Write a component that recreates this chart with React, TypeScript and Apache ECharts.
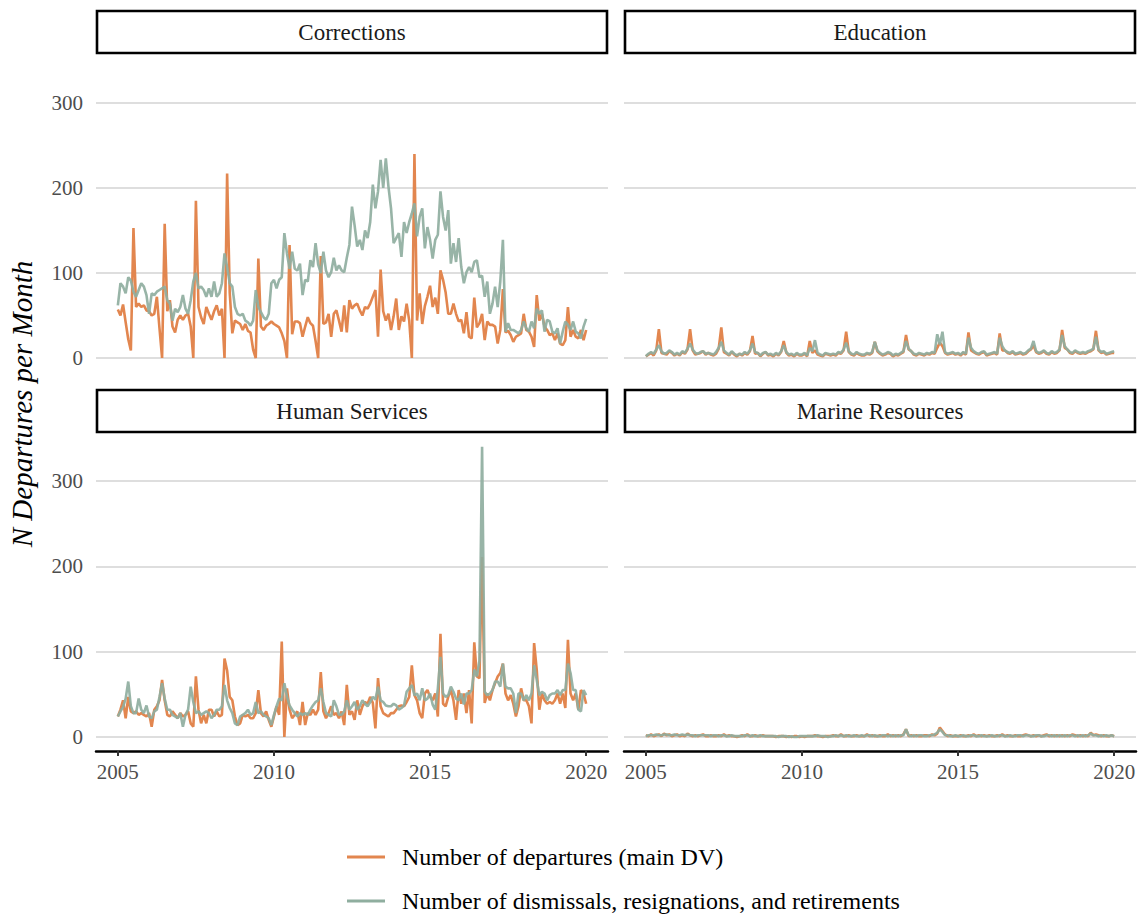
import { useEffect, useRef } from "react";
import * as echarts from "echarts";

// Monthly observations, January 2005 through January 2020 (181 months).
const FIRST_YEAR = 2005;
const YEAR_TICKS = [2005, 2010, 2015, 2020];
const Y_TICKS = [0, 100, 200, 300];
const PANEL_NAMES = ["Corrections", "Education", "Human Services", "Marine Resources"];
const SERIES_NAMES = [
  "Number of departures (main DV)",
  "Number of dismissals, resignations, and retirements",
];

const correctionsDepartures = [
  57, 50, 63, 42, 22, 9, 153, 60, 64, 60, 62, 56,
  55, 50, 52, 72, 35, 0, 158, 55, 68, 37, 30, 45,
  50, 45, 50, 52, 37, 0, 185, 60, 48, 40, 60, 52,
  45, 55, 62, 50, 58, 0, 217, 77, 29, 44, 42, 40,
  33, 40, 32, 30, 10, 0, 117, 37, 33, 38, 40, 43,
  40, 38, 36, 29, 20, 0, 133, 28, 43, 43, 41, 25,
  37, 48, 41, 38, 20, 0, 120, 40, 42, 52, 25, 52,
  56, 44, 31, 62, 30, 68, 58, 62, 64, 56, 50, 60,
  58, 64, 72, 80, 25, 104, 55, 44, 52, 33, 49, 70,
  33, 49, 43, 64, 44, 0, 240, 44, 76, 40, 61, 72,
  85, 60, 71, 52, 103, 92, 77, 52, 52, 64, 52, 43,
  45, 29, 54, 25, 23, 71, 36, 41, 52, 21, 43, 39,
  39, 37, 17, 33, 81, 30, 32, 27, 19, 25, 27, 29,
  52, 33, 31, 25, 13, 74, 44, 52, 37, 33, 27, 29,
  21, 29, 17, 15, 21, 60, 25, 33, 25, 23, 33, 21,
  33,
];

const correctionsSeparations = [
  62, 88, 84, 76, 95, 91, 78, 72, 80, 88, 84, 74,
  52, 76, 74, 78, 80, 82, 84, 68, 64, 44, 58, 54,
  60, 74, 58, 52, 68, 90, 100, 82, 84, 80, 72, 82,
  72, 90, 72, 76, 88, 123, 107, 88, 84, 60, 52, 50,
  52, 44, 42, 38, 44, 80, 60, 54, 48, 45, 52, 88,
  92, 82, 92, 95, 147, 123, 105, 125, 105, 103, 111, 74,
  92, 90, 115, 107, 135, 110, 100, 125, 103, 95, 101, 118,
  103, 109, 103, 101, 118, 133, 178, 156, 131, 139, 127, 150,
  141, 160, 204, 176, 196, 233, 200, 235, 202, 176, 135, 141,
  147, 119, 160, 147, 160, 170, 182, 143, 166, 176, 129, 154,
  139, 117, 139, 145, 196, 166, 150, 174, 111, 135, 113, 141,
  107, 88, 101, 107, 101, 113, 115, 95, 97, 72, 90, 52,
  64, 84, 60, 90, 139, 31, 41, 33, 33, 31, 29, 33,
  43, 35, 31, 43, 35, 58, 52, 56, 31, 45, 43, 31,
  29, 35, 17, 31, 43, 39, 33, 43, 31, 29, 23, 37,
  46,
];

const educationDepartures = [
  2, 4, 6, 3, 9, 34, 6, 5, 4, 8, 6, 3,
  5, 3, 7, 5, 10, 34, 9, 4, 5, 6, 8, 4,
  6, 4, 3, 5, 11, 36, 7, 5, 3, 7, 4, 2,
  5, 3, 6, 4, 8, 26, 5, 6, 2, 5, 7, 3,
  4, 2, 5, 3, 7, 20, 6, 3, 4, 2, 5, 3,
  3, 5, 2, 20, 6, 9, 4, 3, 2, 5, 4, 3,
  4, 3, 6, 5, 9, 31, 7, 4, 3, 6, 4, 3,
  3, 5, 4, 6, 19, 8, 5, 3, 4, 6, 5, 2,
  4, 3, 5, 7, 27, 10, 8, 4, 3, 5, 4, 3,
  5, 4, 6, 5, 12, 18, 14, 6, 4, 5, 6, 4,
  5, 3, 6, 4, 30, 9, 7, 5, 4, 6, 7, 3,
  4, 5, 6, 4, 29, 9, 9, 6, 5, 7, 4, 5,
  6, 4, 5, 8, 10, 15, 7, 5, 6, 8, 5, 4,
  7, 5, 6, 9, 33, 12, 10, 6, 5, 8, 6, 5,
  6, 5, 7, 8, 10, 32, 9, 6, 7, 4, 5, 6,
  6,
];

const educationSeparations = [
  2, 5, 7, 5, 10, 15, 8, 5, 6, 9, 7, 4,
  6, 4, 8, 6, 11, 17, 10, 6, 5, 7, 8, 5,
  6, 5, 4, 7, 12, 19, 9, 6, 4, 8, 5, 3,
  5, 4, 7, 5, 9, 17, 7, 6, 3, 6, 7, 4,
  5, 3, 6, 4, 8, 15, 7, 4, 5, 3, 6, 4,
  4, 6, 3, 12, 8, 21, 6, 4, 3, 6, 5, 4,
  5, 4, 7, 6, 10, 18, 8, 5, 4, 7, 5, 4,
  4, 6, 5, 7, 19, 9, 6, 4, 5, 7, 6, 3,
  5, 4, 6, 8, 20, 11, 8, 5, 4, 6, 5, 4,
  6, 5, 7, 6, 28, 16, 31, 7, 5, 6, 7, 5,
  6, 4, 7, 5, 24, 12, 8, 6, 5, 7, 8, 4,
  5, 6, 7, 5, 24, 14, 9, 7, 6, 8, 5, 6,
  7, 5, 6, 9, 11, 20, 8, 6, 7, 9, 6, 5,
  8, 6, 7, 10, 27, 14, 10, 7, 6, 9, 7, 6,
  7, 6, 8, 9, 11, 25, 10, 7, 8, 5, 6, 7,
  8,
];

const humanServicesDepartures = [
  24, 32, 43, 22, 47, 30, 28, 30, 26, 28, 26, 24,
  28, 12, 32, 36, 43, 67, 43, 26, 24, 30, 26, 22,
  28, 24, 26, 30, 16, 12, 71, 32, 16, 26, 16, 32,
  32, 24, 30, 24, 26, 92, 78, 47, 43, 24, 14, 16,
  26, 24, 26, 22, 22, 28, 55, 28, 24, 30, 20, 12,
  24, 36, 26, 112, 0, 57, 32, 22, 26, 30, 14, 41,
  14, 28, 26, 32, 26, 32, 76, 30, 22, 28, 36, 26,
  28, 22, 30, 14, 61, 26, 30, 20, 43, 26, 36, 41,
  39, 47, 40, 10, 69, 36, 28, 26, 24, 28, 28, 32,
  36, 37, 36, 41, 47, 84, 49, 43, 28, 22, 51, 55,
  47, 43, 51, 24, 121, 39, 36, 47, 55, 43, 20, 55,
  39, 51, 28, 55, 16, 111, 71, 69, 211, 40, 51, 43,
  55, 63, 71, 75, 86, 51, 43, 49, 39, 24, 36, 57,
  43, 43, 36, 16, 110, 79, 32, 51, 43, 39, 41, 39,
  43, 51, 39, 51, 34, 114, 51, 43, 51, 32, 55, 51,
  39,
];

const humanServicesSeparations = [
  24, 30, 35, 45, 65, 36, 28, 28, 45, 32, 28, 37,
  24, 22, 30, 32, 47, 63, 45, 32, 32, 26, 24, 22,
  28, 12, 26, 32, 59, 41, 28, 30, 26, 28, 30, 28,
  22, 26, 32, 32, 36, 61, 43, 34, 28, 16, 14, 24,
  26, 28, 32, 26, 28, 41, 28, 30, 26, 24, 22, 14,
  26, 36, 45, 43, 63, 47, 37, 32, 28, 24, 28, 26,
  28, 26, 32, 37, 41, 43, 57, 41, 28, 26, 24, 43,
  36, 26, 26, 30, 43, 32, 36, 41, 32, 36, 43, 39,
  36, 41, 47, 44, 59, 43, 41, 37, 36, 36, 39, 37,
  32, 34, 37, 53, 57, 61, 49, 51, 43, 57, 43, 45,
  51, 38, 32, 57, 94, 51, 47, 49, 59, 53, 45, 43,
  51, 38, 51, 51, 55, 79, 71, 90, 340, 53, 49, 51,
  55, 65, 65, 59, 86, 59, 57, 57, 51, 28, 51, 51,
  43, 49, 43, 51, 84, 67, 49, 53, 51, 43, 49, 51,
  51, 55, 49, 55, 55, 86, 75, 55, 55, 32, 30, 55,
  49,
];

const marineDepartures = [
  2, 1, 3, 1, 2, 3, 1, 4, 2, 3, 1, 2,
  3, 1, 2, 1, 4, 2, 1, 2, 1, 2, 3, 1,
  1, 2, 1, 1, 2, 1, 3, 1, 2, 1, 1, 0,
  1, 2, 1, 3, 1, 1, 2, 1, 1, 2, 1, 1,
  1, 1, 0, 1, 1, 1, 0, 1, 0, 1, 1, 0,
  1, 0, 1, 1, 1, 2, 1, 1, 0, 1, 1, 1,
  2, 1, 1, 3, 1, 1, 2, 1, 1, 2, 1, 1,
  1, 3, 1, 2, 1, 1, 2, 1, 1, 3, 1, 2,
  1, 2, 1, 3, 9, 1, 2, 1, 2, 1, 1, 2,
  2, 1, 3, 2, 4, 11, 7, 3, 1, 2, 1, 1,
  1, 2, 1, 1, 2, 1, 3, 1, 2, 1, 2, 1,
  2, 1, 1, 2, 1, 3, 1, 2, 1, 1, 2, 1,
  1, 2, 3, 2, 1, 2, 1, 2, 1, 2, 3, 1,
  2, 1, 2, 1, 2, 1, 2, 1, 3, 2, 1, 2,
  1, 2, 1, 5, 2, 3, 2, 1, 2, 1, 1, 2,
  1,
];

const marineSeparations = [
  1, 2, 2, 2, 3, 2, 2, 3, 3, 2, 2, 3,
  2, 2, 3, 2, 3, 2, 2, 1, 2, 2, 2, 2,
  2, 1, 2, 2, 1, 2, 2, 1, 1, 2, 1, 1,
  1, 1, 2, 2, 1, 2, 1, 1, 2, 1, 1, 1,
  1, 1, 1, 0, 1, 1, 1, 0, 1, 0, 0, 1,
  1, 1, 1, 1, 1, 1, 2, 1, 1, 1, 0, 1,
  1, 2, 1, 2, 1, 2, 1, 1, 2, 1, 1, 2,
  1, 2, 2, 1, 2, 1, 1, 2, 2, 1, 2, 1,
  2, 1, 2, 2, 9, 2, 1, 2, 1, 2, 2, 1,
  1, 2, 2, 3, 5, 9, 6, 2, 2, 1, 1, 2,
  1, 1, 2, 1, 1, 2, 2, 1, 1, 2, 1, 1,
  1, 2, 1, 1, 2, 2, 1, 1, 2, 1, 1, 2,
  2, 1, 2, 2, 1, 1, 2, 2, 1, 1, 2, 2,
  1, 2, 1, 2, 1, 2, 1, 2, 2, 1, 2, 1,
  2, 1, 2, 4, 2, 2, 1, 2, 1, 2, 1, 2,
  1,
];

const PANEL_DATA = [
  [correctionsDepartures, correctionsSeparations],
  [educationDepartures, educationSeparations],
  [humanServicesDepartures, humanServicesSeparations],
  [marineDepartures, marineSeparations],
];

const FONT = "'Liberation Serif', 'Times New Roman', serif";
const ORANGE = "#E2864F";
const SAGE = "#8FAE9F";
const TICK_GREY = "#4D4D4D";

// Panel rectangles: 300 at the top edge, 0 at the bottom edge.
const PANELS = [
  { left: 96, top: 103, width: 512, height: 255 },
  { left: 624, top: 103, width: 512, height: 255 },
  { left: 96, top: 481, width: 512, height: 256 },
  { left: 624, top: 481, width: 512, height: 256 },
];
const STRIP_TOPS = [10, 10, 389, 389];
const STRIP_HEIGHT = 44;
const LEGEND_TOPS = [845, 889];

const toPoints = (values: number[]) =>
  values.map((v, i) => [FIRST_YEAR + i / 12, v]);

function buildOption() {
  const grid = PANELS.map((p) => ({ ...p, containLabel: false }));

  const xAxis = PANELS.map((_, k) => {
    const bottomRow = k >= 2;
    return {
      type: "value",
      gridIndex: k,
      min: 2004.3,
      max: 2020.7,
      offset: bottomRow ? 14 : 0,
      splitLine: { show: false },
      axisLine: {
        show: bottomRow,
        onZero: false,
        lineStyle: { color: "#000", width: 2.5 },
      },
      axisTick: {
        show: bottomRow,
        customValues: YEAR_TICKS,
        length: 5,
        lineStyle: { color: "#333", width: 2 },
      },
      axisLabel: {
        show: bottomRow,
        customValues: YEAR_TICKS,
        margin: 10,
        color: TICK_GREY,
        fontFamily: FONT,
        fontSize: 21,
        formatter: (v: number) => String(Math.round(v)),
      },
    };
  });

  const yAxis = PANELS.map((_, k) => {
    const leftCol = k % 2 === 0;
    return {
      type: "value",
      gridIndex: k,
      min: Y_TICKS[0],
      max: Y_TICKS[Y_TICKS.length - 1],
      interval: 100,
      axisLine: { show: false },
      axisTick: { show: false },
      splitLine: { show: true, lineStyle: { color: "#DEDEDE", width: 2 } },
      axisLabel: {
        show: leftCol,
        margin: 13,
        color: TICK_GREY,
        fontFamily: FONT,
        fontSize: 21,
      },
    };
  });

  const series: any[] = [];
  PANEL_DATA.forEach(([departures, separations], k) => {
    series.push({
      type: "line",
      name: SERIES_NAMES[0],
      xAxisIndex: k,
      yAxisIndex: k,
      data: toPoints(departures),
      showSymbol: false,
      symbol: "none",
      clip: false,
      color: ORANGE,
      lineStyle: { color: ORANGE, width: 2.6 },
      z: 2,
    });
    series.push({
      type: "line",
      name: SERIES_NAMES[1],
      xAxisIndex: k,
      yAxisIndex: k,
      data: toPoints(separations),
      showSymbol: false,
      symbol: "none",
      clip: false,
      color: SAGE,
      lineStyle: { color: SAGE, width: 2.6, opacity: 0.92 },
      z: 3,
    });
  });

  const strips = PANELS.map((p, k) => ({
    type: "group",
    children: [
      {
        type: "rect",
        shape: { x: p.left + 1, y: STRIP_TOPS[k] + 1, width: p.width - 2, height: STRIP_HEIGHT - 2 },
        style: { fill: "#fff", stroke: "#000", lineWidth: 2.6 },
      },
      {
        type: "text",
        x: p.left + p.width / 2,
        y: STRIP_TOPS[k] + STRIP_HEIGHT / 2,
        style: {
          text: PANEL_NAMES[k],
          fill: "#1a1a1a",
          font: `23px ${FONT}`,
          align: "center",
          verticalAlign: "middle",
        },
      },
    ],
  }));

  const yTitle = {
    type: "text",
    x: 22,
    y: 404,
    rotation: Math.PI / 2,
    style: {
      text: "N Departures per Month",
      fill: "#000",
      font: `italic 29px ${FONT}`,
      align: "center",
      verticalAlign: "middle",
    },
  };

  // One legend row per measure, stacked vertically.
  const legend = SERIES_NAMES.map((name, k) => ({
    data: [name],
    orient: "horizontal",
    left: 347,
    top: LEGEND_TOPS[k],
    padding: 0,
    icon: "rect",
    itemWidth: 38,
    itemHeight: 3,
    selectedMode: false,
    textStyle: {
      fontFamily: FONT,
      fontSize: 24,
      color: "#000",
      padding: [0, 0, 0, 12],
    },
  }));

  return {
    animation: false,
    backgroundColor: "#fff",
    grid,
    xAxis,
    yAxis,
    series,
    legend,
    graphic: [...strips, yTitle],
  };
}

export default function App() {
  const ref = useRef<HTMLDivElement>(null);

  useEffect(() => {
    if (!ref.current) return;
    const chart = echarts.init(ref.current, undefined, { renderer: "svg" });
    chart.setOption(buildOption() as any);
    return () => chart.dispose();
  }, []);

  return (
    <div
      ref={ref}
      style={{ position: "absolute", left: 0, top: 0, width: 1141, height: 917 }}
    />
  );
}
